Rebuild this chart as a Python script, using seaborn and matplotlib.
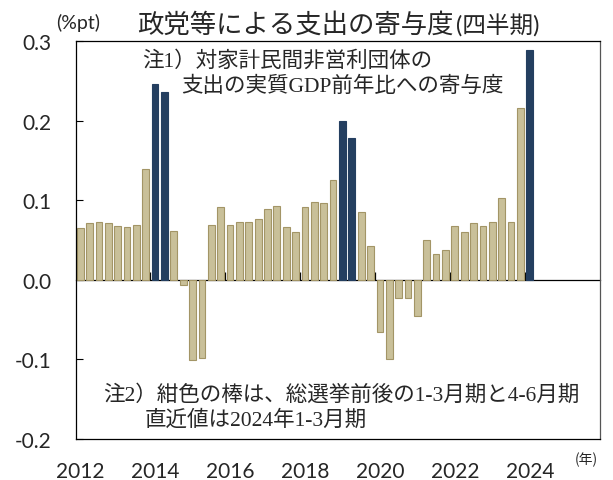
import matplotlib
matplotlib.use("Agg")
import matplotlib.pyplot as plt
import seaborn as sns
import pandas as pd
import numpy as np
from matplotlib.colors import to_rgb

# ---------------- data ----------------
quarters = [f"{y}Q{q}" for y in range(2012, 2025) for q in range(1, 5)][:49]
values = [0.065, 0.071, 0.072, 0.071, 0.068, 0.066, 0.069, 0.139,
          0.246, 0.236, 0.061, -0.006, -0.101, -0.098, 0.069, 0.091,
          0.069, 0.072, 0.072, 0.076, 0.089, 0.093, 0.066, 0.060,
          0.092, 0.098, 0.096, 0.125, 0.199, 0.178, 0.085, 0.042,
          -0.065, -0.100, -0.023, -0.023, -0.045, 0.050, 0.033, 0.038,
          0.068, 0.060, 0.071, 0.067, 0.072, 0.103, 0.073, 0.216,
          0.289]
highlight = ["2014Q1", "2014Q2", "2019Q1", "2019Q2", "2024Q1"]
year_labels = ["2012", "2014", "2016", "2018", "2020", "2022", "2024"]
yticks = [-0.2, -0.1, 0.0, 0.1, 0.2, 0.3]
ytick_labels = ["-0.2", "-0.1", "0.0", "0.1", "0.2", "0.3"]

title_main = "政党等による支出の寄与度"
title_sub = "(四半期)"
unit_label = "(%pt)"
year_unit = "(年)"
note1_a = "注1）対家計民間非営利団体の"
note1_b = "支出の実質GDP前年比への寄与度"
note2_a = "注2）紺色の棒は、総選挙前後の1-3月期と4-6月期"
note2_b = "直近値は2024年1-3月期"

BEIGE = "#c9c099"
BEIGE_EDGE = "#a39566"
NAVY = "#243f60"

df = pd.DataFrame({
    "pos": np.arange(len(values)),
    "quarter": quarters,
    "value": values,
})
df["kind"] = np.where(df["quarter"].isin(highlight), "election", "normal")

# ---------------- figure ----------------
sns.set_theme(style="white")
plt.rcParams["font.family"] = ["Lato", "Noto Sans CJK JP", "DejaVu Sans"]

fig = plt.figure(figsize=(6.13, 4.81), dpi=100)
ax = fig.add_axes([75.5 / 613, 1 - 440 / 481, (600 - 75.5) / 613, (440 - 42) / 481])

sns.barplot(data=df, x="pos", y="value", hue="kind",
            palette={"normal": BEIGE, "election": NAVY},
            native_scale=True, dodge=False, width=0.72,
            legend=False, ax=ax, saturation=1)

for p in ax.patches:
    fc = to_rgb(p.get_facecolor()[:3])
    if np.allclose(fc, to_rgb(BEIGE), atol=0.02):
        p.set_edgecolor(BEIGE_EDGE)
        p.set_linewidth(0.8)
    else:
        p.set_edgecolor(NAVY)
        p.set_linewidth(0.8)

ymin, ymax = -0.2, 0.3
ax.set_ylim(ymin, ymax)
ax.set_xlim(-0.5, 55.5)
ax.set_xlabel("")
ax.set_ylabel("")

# y axis
ax.set_yticks(yticks)
ax.set_yticklabels(ytick_labels)
ax.tick_params(axis="y", direction="in", length=5, width=0.8, color="black",
               pad=17, labelsize=15, left=True)

# x labels at bottom (no tick marks)
ax.set_xticks(np.arange(len(year_labels)) * 8)
ax.set_xticklabels(year_labels)
ax.tick_params(axis="x", length=0, pad=16, labelsize=15, bottom=True)

for s in ax.spines.values():
    s.set_visible(True)
    s.set_color("black")
    s.set_linewidth(0.9)
ax.spines["right"].set_color("#555555")

# zero axis with upward ticks at year boundaries
zero_frac = (0 - ymin) / (ymax - ymin)
sec = ax.secondary_xaxis(zero_frac)
sec.set_xticks(np.arange(1, len(year_labels)) * 8 - 0.5)
sec.tick_params(axis="x", direction="in", length=6, width=0.9, color="black",
                labelbottom=False, labeltop=False)
sec.spines["bottom"].set_color("black")
sec.spines["bottom"].set_linewidth(0.9)

# titles / labels
fig.text(137 / 613, 1 - 25 / 481, title_main, fontsize=19, va="center", ha="left",
         family=["Noto Sans CJK JP"])
fig.text(456 / 613, 1 - 26 / 481, title_sub, fontsize=17, va="center", ha="left",
         family=["Lato", "Noto Sans CJK JP"])
fig.text(78 / 613, 1 - 23 / 481, unit_label, fontsize=14, va="center", ha="center",
         family=["Lato"])
fig.text(586 / 613, 1 - 460 / 481, year_unit, fontsize=10, va="center", ha="center",
         family=["Noto Sans CJK JP"])

note_family = ["Liberation Serif", "Noto Sans CJK JP"]
fig.text(142 / 613, 1 - 61 / 481, note1_a, fontsize=15.5, va="center", ha="left",
         family=note_family)
fig.text(181 / 613, 1 - 87 / 481, note1_b, fontsize=15.5, va="center", ha="left",
         family=note_family)
fig.text(103 / 613, 1 - 395 / 481, note2_a, fontsize=15.5, va="center", ha="left",
         family=note_family)
fig.text(145 / 613, 1 - 421 / 481, note2_b, fontsize=15.5, va="center", ha="left",
         family=note_family)

fig.savefig("out.png", dpi=100)
